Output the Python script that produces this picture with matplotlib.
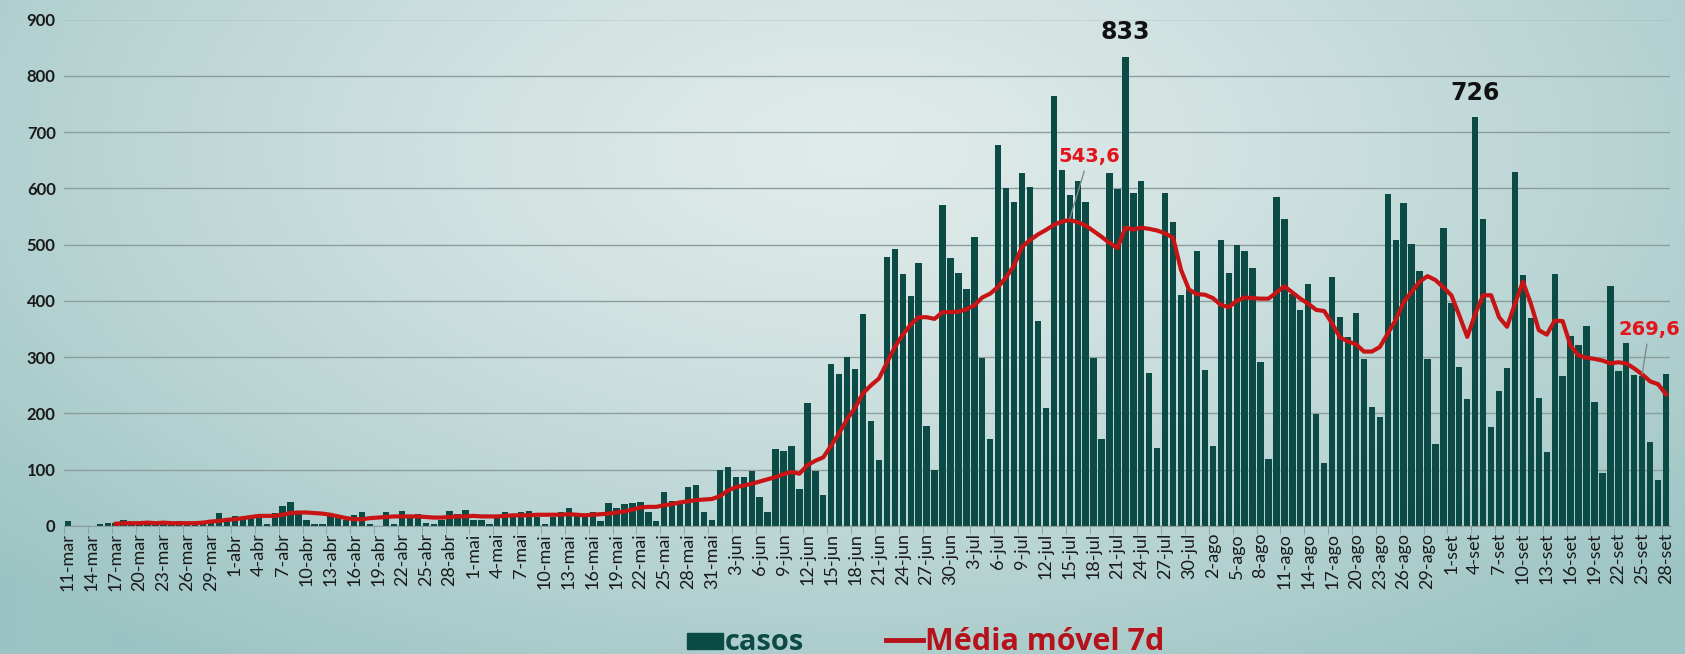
import numpy as np
import pandas as pd
import matplotlib
matplotlib.use('Agg')
import matplotlib.pyplot as plt
from matplotlib.lines import Line2D
from matplotlib.patches import Rectangle

# dados diarios 11-mar .. 28-set
meses = ['jan', 'fev', 'mar', 'abr', 'mai', 'jun', 'jul', 'ago', 'set', 'out', 'nov', 'dez']
datas = pd.date_range('2020-03-11', '2020-09-28')
rotulos = [f'{d.day}-{meses[d.month - 1]}' for d in datas]

casos = [
    8, 0, 0, 0, 3, 6, 5, 10, 4, 6,
    5, 7, 6, 4, 8, 5, 3, 6, 8, 23,
    15, 18, 12, 14, 17, 4, 23, 36, 42, 25,
    10, 4, 4, 17, 14, 11, 20, 24, 3, 0,
    24, 3, 26, 19, 22, 6, 4, 11, 26, 22,
    29, 11, 11, 4, 19, 24, 19, 24, 26, 16,
    3, 16, 24, 32, 19, 19, 24, 8, 41, 32,
    39, 41, 43, 25, 9, 61, 45, 40, 69, 73,
    25, 11, 100, 104, 87, 87, 98, 52, 25, 136,
    134, 142, 66, 218, 98, 55, 287, 270, 301, 279,
    376, 187, 117, 478, 493, 447, 408, 467, 178, 100,
    571, 476, 450, 422, 514, 298, 155, 677, 601, 576,
    627, 603, 365, 209, 764, 632, 588, 613, 576, 298,
    155, 627, 598, 833, 591, 613, 272, 138, 592, 541,
    411, 422, 488, 277, 142, 509, 450, 500, 488, 459,
    291, 119, 584, 546, 413, 384, 430, 199, 112, 443,
    372, 335, 379, 297, 211, 193, 590, 509, 574, 501,
    453, 297, 146, 530, 397, 282, 225, 726, 545, 176,
    240, 280, 629, 446, 370, 228, 132, 448, 266, 338,
    322, 355, 220, 95, 426, 276, 326, 269, 266, 149,
    81, 270,
]

# media movel 7d, a partir de 17-mar
media_inicio = 6
media = [
    4, 5, 5, 5, 6, 5, 6, 5, 5, 5,
    5, 6, 8, 9, 11, 12, 14, 16, 18, 18,
    18, 20, 23, 24, 24, 23, 22, 20, 17, 14,
    12, 12, 14, 15, 16, 17, 17, 17, 17, 16,
    15, 15, 16, 17, 17, 18, 17, 17, 17, 18,
    19, 19, 19, 20, 20, 20, 20, 21, 20, 19,
    20, 21, 22, 24, 26, 29, 33, 34, 34, 37,
    39, 42, 44, 46, 47, 48, 53, 63, 69, 72,
    75, 79, 83, 87, 92, 96, 93, 108, 116, 122,
    143, 165, 190, 210, 236, 250, 262, 290, 318, 340,
    358, 371, 371, 368, 380, 380, 381, 385, 392, 406,
    413, 425, 442, 463, 496, 508, 518, 526, 535, 541,
    543.6, 540, 534, 524, 514, 503, 494, 530, 527, 530,
    528, 525, 520, 512, 455, 420, 412, 411, 405, 393,
    389, 400, 406, 405, 404, 404, 415, 426, 415, 404,
    395, 384, 382, 360, 335, 328, 323, 310, 310, 318,
    342, 366, 398, 416, 434, 444, 437, 424, 410, 374,
    336, 377, 410, 410, 371, 354, 395, 434, 395, 348,
    340, 365, 364, 320, 303, 299, 297, 294, 289, 291,
    289, 280, 269.6, 257, 252, 234,
]

cor_barra = '#0c4a45'
cor_linha = '#c81414'
cor_rotulo = '#e3141c'
cor_legenda = '#b5121b'

W, H = 1685, 654
fig = plt.figure(figsize=(W / 100, H / 100), dpi=100)

# fundo em degrade
bg = fig.add_axes([0, 0, 1, 1])
bg.axis('off')
yy, xx = np.mgrid[0:H, 0:W]
r = np.sqrt(((xx - 850) / 1150) ** 2 + ((yy - 150) / 620) ** 2)
t = np.clip(r, 0, 1) ** 1.3
claro = np.array([0xe0, 0xeb, 0xea]) / 255
escuro = np.array([0x9c, 0xc4, 0xc3]) / 255
bg.imshow(claro + (escuro - claro) * t[..., None], aspect='auto', extent=[0, 1, 0, 1])

ax = fig.add_axes([64 / W, 128 / H, 1606 / W, 506.5 / H])
ax.patch.set_alpha(0)

x = np.arange(len(casos))
ax.bar(x, casos, width=0.8, color=cor_barra, zorder=2)
xm = np.arange(media_inicio, media_inicio + len(media))
ax.plot(xm, media, color=cor_linha, lw=3, zorder=3, solid_joinstyle='round')

ax.set_xlim(-0.5, len(casos) - 0.5)
ax.set_ylim(0, 900)
ax.set_yticks(range(0, 901, 100))
ax.yaxis.grid(True, color='#8c9e9e', lw=1)
ax.set_axisbelow(True)
for s in ['top', 'right', 'left']:
    ax.spines[s].set_visible(False)
ax.spines['bottom'].set_color('#8c9e9e')

ax.tick_params(axis='y', length=0, pad=6)
for lb in ax.get_yticklabels():
    lb.set_fontfamily('Lato')
    lb.set_fontweight('bold')
    lb.set_fontsize(12)
    lb.set_color('#1a1a1a')

ax.set_xticks(x[::3])
ax.set_xticklabels(rotulos[::3], rotation=90, fontfamily='Lato', fontsize=13, color='#1a1a1a')
ax.set_xticks(np.arange(-0.5, len(casos), 3), minor=True)
ax.tick_params(axis='x', which='major', length=0, pad=5)
ax.tick_params(axis='x', which='minor', length=6, color='#8c9e9e')

# rotulos de destaque
ax.text(133, 877, '833', ha='center', va='center', fontsize=17, fontweight='bold', color='#111111')
ax.text(177, 769, '726', ha='center', va='center', fontsize=17, fontweight='bold', color='#111111')
ax.annotate('543,6', xy=(126, 546), xytext=(128.4, 657), ha='center', va='center',
            fontsize=14, fontweight='bold', color=cor_rotulo,
            arrowprops=dict(arrowstyle='-', color='#7f8c8c', lw=1, shrinkA=2, shrinkB=0))
ax.annotate('269,6', xy=(198, 270), xytext=(198.9, 350), ha='center', va='center',
            fontsize=14, fontweight='bold', color=cor_rotulo, annotation_clip=False,
            arrowprops=dict(arrowstyle='-', color='#7f8c8c', lw=1, shrinkA=2, shrinkB=0))

# legenda
fig.patches.append(Rectangle((687 / W, 5 / H), 36 / W, 16 / H, transform=fig.transFigure,
                             color=cor_barra, figure=fig))
fig.text(725 / W, 4 / H, 'casos', fontfamily='Open Sans', fontweight='bold', fontsize=21,
         color=cor_barra, va='baseline')
fig.lines.append(Line2D([886 / W, 923 / W], [14 / H, 14 / H], transform=fig.transFigure,
                        color=cor_legenda, lw=3.5, figure=fig))
fig.text(925 / W, 4 / H, 'Média móvel 7d', fontfamily='Open Sans', fontweight='bold', fontsize=22,
         color=cor_legenda, va='baseline')

fig.savefig('out.png', dpi=100)
